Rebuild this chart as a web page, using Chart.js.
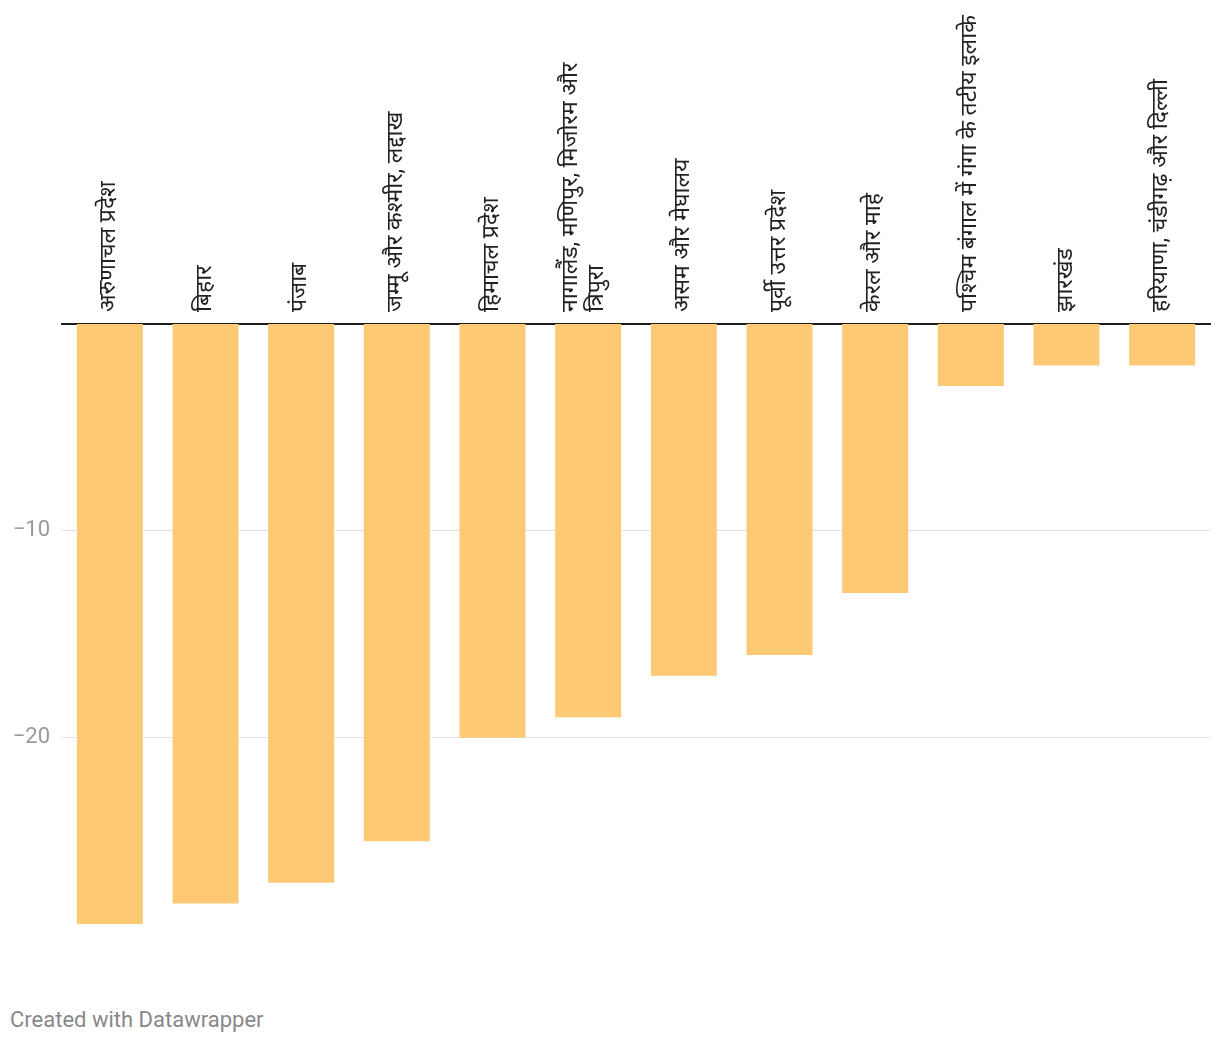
<!DOCTYPE html>
<html>
<head>
<meta charset="utf-8">
<script src="https://cdn.jsdelivr.net/npm/chart.js@4.4.1/dist/chart.umd.min.js"></script>
<style>
  body { margin: 0; background: #fff; }
  #wrap { position: relative; width: 1220px; height: 970px; }
  #footer { position: absolute; left: 10px; top: 1007px; font: 22px Roboto, sans-serif; color: #888; }
</style>
</head>
<body>
<div id="wrap"><canvas id="chart"></canvas></div>
<div id="footer">Created with Datawrapper</div>
<script>
// 州・地域
const categories = [
  'अरुणाचल प्रदेश',
  'बिहार',
  'पंजाब',
  'जम्मू और कश्मीर, लद्दाख',
  'हिमाचल प्रदेश',
  ['नागालैंड, मणिपुर, मिजोरम और', 'त्रिपुरा'],
  'असम और मेघालय',
  'पूर्वी उत्तर प्रदेश',
  'केरल और माहे',
  'पश्चिम बंगाल में गंगा के तटीय इलाके',
  'झारखंड',
  'हरियाणा, चंडीगढ़ और दिल्ली'
];
// 値
const values = [-29, -28, -27, -25, -20, -19, -17, -16, -13, -3, -2, -2];
// 目盛り
const yTicks = [-10, -20];

const labelFont = "Roboto, 'Noto Sans', 'Noto Sans Devanagari', sans-serif";

new Chart(document.getElementById('chart'), {
  type: 'bar',
  data: {
    labels: categories,
    datasets: [{
      data: values,
      backgroundColor: '#fdc975',
      barPercentage: 0.69,
      categoryPercentage: 1
    }]
  },
  options: {
    responsive: true,
    maintainAspectRatio: false,
    animation: false,
    layout: { padding: { left: 0, right: 10, top: 0, bottom: 0 } },
    plugins: { legend: { display: false }, tooltip: { enabled: false } },
    scales: {
      x: {
        position: 'top',
        z: 1,
        grid: { display: false, drawTicks: false },
        border: { display: true, color: '#1d1d1d', width: 2 },
        ticks: {
          color: '#222',
          // 2行ラベルは行間を詰めて中央寄せ
          font: ctx => ({
            family: labelFont,
            size: 23,
            lineHeight: Array.isArray(categories[ctx.index]) ? 1.13 : 1.54
          }),
          minRotation: 90,
          maxRotation: 90,
          autoSkip: false,
          padding: 12,
          labelOffset: 35
        },
        afterFit: s => { s.height = 324; }
      },
      y: {
        min: -30,
        max: 0,
        grid: { color: '#e3e3e3', lineWidth: 1, drawTicks: false },
        border: { display: false },
        ticks: {
          color: '#9a9a9a',
          font: { family: 'Roboto, sans-serif', size: 22 },
          padding: 12,
          callback: v => '\u2212' + Math.abs(v)
        },
        afterBuildTicks: s => { s.ticks = yTicks.map(v => ({ value: v })); },
        afterFit: s => { s.width = 62; }
      }
    }
  }
});
</script>
</body>
</html>
